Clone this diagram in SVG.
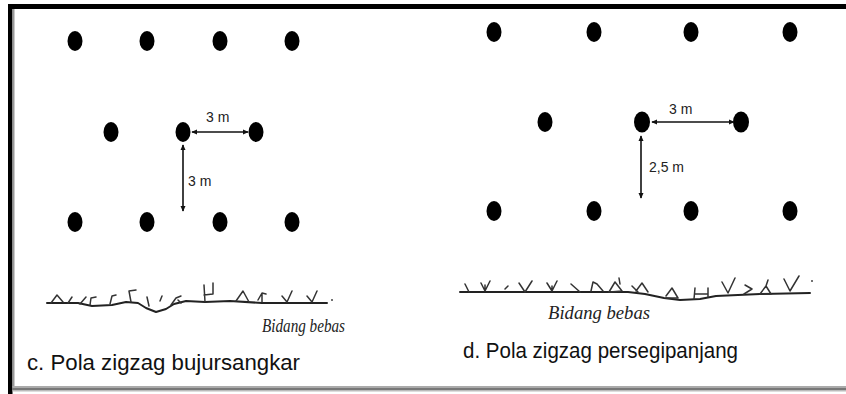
<svg xmlns="http://www.w3.org/2000/svg" width="846" height="394" viewBox="0 0 846 394">
  <defs>
    <marker id="ah" viewBox="0 0 8 8" refX="7" refY="4" markerWidth="6" markerHeight="6" orient="auto-start-reverse" markerUnits="userSpaceOnUse">
      <path d="M0,0.5 L8,4 L0,7.5 Z" fill="#111"/>
    </marker>
    <style>
      .dot { fill: #000; }
      .dim { stroke: #111; stroke-width: 1.6; fill: none; marker-start: url(#ah); marker-end: url(#ah); }
      .lbl { font-family: "Liberation Sans", Arial, sans-serif; font-size: 14px; fill: #222; }
      .cap { font-family: "Liberation Sans", Arial, sans-serif; font-size: 22px; fill: #111; }
      .bb { font-family: "Liberation Serif", "Times New Roman", serif; font-style: italic; font-size: 18px; fill: #222; }
      .gnd { stroke: #222; stroke-width: 2; fill: none; stroke-linejoin: round; stroke-linecap: round; }
      .grass { stroke: #333; stroke-width: 1.5; fill: none; stroke-linejoin: round; stroke-linecap: round; }
    </style>
  </defs>

  <rect x="0" y="0" width="846" height="394" fill="#fff"/>

  <!-- frame -->
  <g id="frame">
    <rect x="8" y="4" width="838" height="5" fill="#000"/>
    <rect x="8" y="4" width="4.5" height="390" fill="#000"/>
    <rect x="12.5" y="9" width="2" height="378" fill="#999"/>
    <rect x="12.5" y="386" width="834" height="2" fill="#aaa"/>
    <rect x="12.5" y="388" width="834" height="2" fill="#777"/>
    <rect x="12.5" y="390" width="834" height="1.5" fill="#bbb"/>
  </g>

  <!-- c. square zigzag planting -->
  <g id="pattern-c">
    <ellipse class="dot" cx="75" cy="41" rx="7.5" ry="10"/>
    <ellipse class="dot" cx="147" cy="41" rx="7.5" ry="10"/>
    <ellipse class="dot" cx="220" cy="41" rx="7.5" ry="10"/>
    <ellipse class="dot" cx="292" cy="41" rx="7.5" ry="10"/>
    <ellipse class="dot" cx="111" cy="132" rx="7.5" ry="10"/>
    <ellipse class="dot" cx="183" cy="132" rx="7.5" ry="10"/>
    <ellipse class="dot" cx="256" cy="132" rx="7.5" ry="10"/>
    <ellipse class="dot" cx="75" cy="222" rx="7.5" ry="10"/>
    <ellipse class="dot" cx="147" cy="222" rx="7.5" ry="10"/>
    <ellipse class="dot" cx="220" cy="222" rx="7.5" ry="10"/>
    <ellipse class="dot" cx="292" cy="222" rx="7.5" ry="10"/>
  </g>

  <!-- d. rectangular zigzag planting -->
  <g id="pattern-d">
    <ellipse class="dot" cx="494" cy="32" rx="7.5" ry="10"/>
    <ellipse class="dot" cx="594" cy="32" rx="7.5" ry="10"/>
    <ellipse class="dot" cx="691" cy="32" rx="7.5" ry="10"/>
    <ellipse class="dot" cx="790" cy="32" rx="7.5" ry="10"/>
    <ellipse class="dot" cx="545" cy="122" rx="7.5" ry="10"/>
    <ellipse class="dot" cx="642" cy="122" rx="8" ry="10.5"/>
    <ellipse class="dot" cx="741" cy="122" rx="8" ry="10.5"/>
    <ellipse class="dot" cx="494" cy="211" rx="7.5" ry="10"/>
    <ellipse class="dot" cx="594" cy="211" rx="7.5" ry="10"/>
    <ellipse class="dot" cx="691" cy="211" rx="7.5" ry="10"/>
    <ellipse class="dot" cx="790" cy="211" rx="7.5" ry="10"/>
  </g>

  <!-- spacing dimensions -->
  <g id="connectors">
    <line class="dim" x1="192" y1="132" x2="248" y2="132"/>
    <line class="dim" x1="183" y1="145" x2="183" y2="211"/>
    <line class="dim" x1="652" y1="122" x2="734" y2="122"/>
    <line class="dim" x1="641" y1="136" x2="641" y2="198"/>
  </g>

  <g id="labels">
    <text class="lbl" x="206" y="122">3 m</text>
    <text class="lbl" x="188" y="186">3 m</text>
    <text class="lbl" x="669" y="114">3 m</text>
    <text class="lbl" x="649" y="172">2,5 m</text>
  </g>

  <!-- ground with undergrowth, left -->
  <g id="ground-c">
    <path class="gnd" d="M47,303 L78,303 L92,306 L112,305 L126,302 L138,303 L146,308 L156,312 L166,309 L174,304 L186,301 L205,302 L230,301 L262,303 L327,303"/>
    <path class="grass" d="M51,303 L57,295 L63,302 M68,303 L72,297 M80,304 L86,297 M90,305 L91,298 L96,297 M110,304 L112,296 L116,295 M131,302 L129,291 L136,290 M149,306 L147,297 M160,301 L162,296 M171,305 L176,298 L181,296 M178,300 L181,303 M205,302 L204,285 M204,295 L213,294 L213,283 M236,301 L243,291 L249,302 M258,300 L262,293 L266,294 M262,294 L262,302 M282,296 L287,302 L292,291 M307,296 L312,302 L317,291"/>
    <circle cx="332" cy="300" r="1" fill="#444"/>
    <text class="bb" x="262" y="332" textLength="83" lengthAdjust="spacingAndGlyphs">Bidang bebas</text>
  </g>

  <!-- ground with undergrowth, right -->
  <g id="ground-d">
    <path class="gnd" d="M460,292 L628,292 L645,294 L664,298 L680,300 L700,299 L716,296 L760,294 L810,293"/>
    <path class="grass" d="M465,284 L469,292 M481,283 L485,291 L490,281 M485,291 L485,285 M505,289 L508,286 M519,283 L525,292 L532,281 M547,283 L552,291 L557,281 M552,291 L552,286 M571,284 L580,292 M591,291 L593,282 L597,284 M597,284 L603,291 M609,292 L615,282 L622,291 L610,292 M620,284 L619,278 M632,286 L638,292 M636,291 L642,283 L648,292 M666,296 L672,288 L678,298 L666,298 M694,299 L695,288 M695,294 L708,294 M708,288 L708,297 M722,282 L728,293 L735,278 M745,285 L752,289 L744,294 M760,294 L766,286 L771,294 L760,294 M766,286 L768,280 M784,279 L790,291 L799,276"/>
    <circle cx="812" cy="281" r="1" fill="#444"/>
    <text class="bb" x="548" y="319" textLength="102" lengthAdjust="spacingAndGlyphs">Bidang bebas</text>
  </g>

  <g id="captions">
    <text class="cap" x="27" y="370" textLength="273" lengthAdjust="spacingAndGlyphs">c. Pola zigzag bujursangkar</text>
    <text class="cap" x="463" y="358" textLength="275" lengthAdjust="spacingAndGlyphs">d. Pola zigzag persegipanjang</text>
  </g>
</svg>
